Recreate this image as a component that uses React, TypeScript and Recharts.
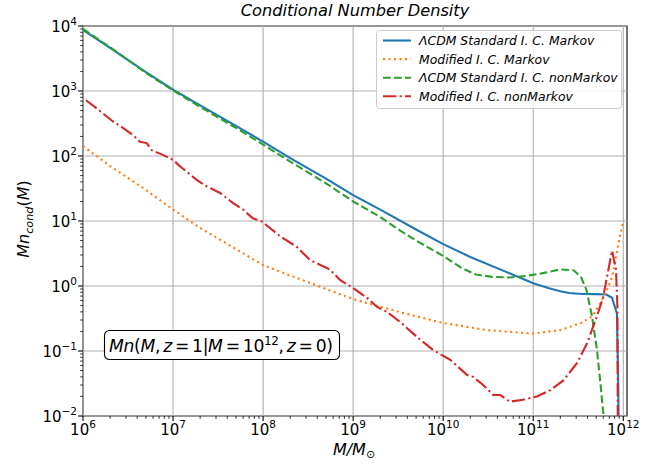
import React from 'react'
import { LineChart, Line, XAxis, YAxis, ReferenceLine, ReferenceArea } from 'recharts'

// axis limits (log-log)
const X_MIN = 1e6
const X_MAX = 1.1e12
const Y_MIN = 1e-2
const Y_MAX = 1e4

const xMajor = [1e6, 1e7, 1e8, 1e9, 1e10, 1e11, 1e12]
const yMajor = [1e-2, 1e-1, 1e0, 1e1, 1e2, 1e3, 1e4]
const minorSteps = [2, 3, 4, 5, 6, 7, 8, 9]

// [M / Msun, M n_cond(M)]
const standardMarkov: [number, number][] = [
  [1e6, 8700], [2e6, 4600], [5e6, 1950], [1e7, 1050], [2e7, 600], [5e7, 290],
  [1e8, 166], [2e8, 93], [5e8, 45], [1e9, 25], [2e9, 15], [5e9, 7.4],
  [1e10, 4.4], [2e10, 2.8], [5e10, 1.65], [1e11, 1.1], [1.5e11, 0.92], [2e11, 0.83],
  [2.5e11, 0.78], [3.5e11, 0.755], [5e11, 0.75], [6.5e11, 0.74], [7.5e11, 0.66],
  [8.5e11, 0.38], [8.8e11, 0.03], [8.9e11, 0.005],
]

const modifiedMarkov: [number, number][] = [
  [1e6, 142], [2e6, 70], [5e6, 30], [1e7, 15], [2e7, 7.8], [5e7, 3.7],
  [1e8, 2.1], [2e8, 1.45], [5e8, 0.9], [1e9, 0.63], [2e9, 0.48], [4.3e9, 0.36],
  [1e10, 0.27], [3e10, 0.21], [1e11, 0.185], [2e11, 0.21], [3.4e11, 0.27], [4.5e11, 0.34],
  [5.6e11, 0.55], [6.6e11, 0.87], [7.5e11, 1.37], [8.3e11, 2.8], [9e11, 5.1], [1e12, 9.8],
]

const standardNonMarkov: [number, number][] = [
  [1e6, 9000], [2e6, 4700], [5e6, 1900], [1e7, 1020], [2e7, 570], [5e7, 270],
  [1e8, 150], [2e8, 82], [5e8, 38], [1e9, 20], [2e9, 11.5], [3.3e9, 7.2],
  [5e9, 5.0], [1e10, 2.9], [1.6e10, 1.9], [2.3e10, 1.5], [3.5e10, 1.38], [5.5e10, 1.35],
  [8e10, 1.42], [1.2e11, 1.55], [2e11, 1.8], [2.8e11, 1.75], [3.4e11, 1.37], [3.9e11, 0.87],
  [4.5e11, 0.34], [5.1e11, 0.105], [5.6e11, 0.03], [6e11, 0.011], [6.1e11, 0.005],
]

const modifiedNonMarkov: [number, number][] = [
  [1.08e6, 720], [1.42e6, 540], [2.15e6, 340], [2.78e6, 270], [3.6e6, 210], [4.3e6, 166],
  [5.1e6, 158], [5.8e6, 123], [7.7e6, 104], [1e7, 87], [1.2e7, 69], [1.83e7, 43],
  [2.37e7, 34], [3.33e7, 27], [4.6e7, 19], [6e7, 15], [7.7e7, 11], [9.7e7, 9.8],
  [1.55e8, 5.8], [2.37e8, 4.0], [2.78e8, 3.2], [3.33e8, 2.5], [5.5e8, 1.8], [7.2e8, 1.23],
  [1e9, 0.93], [1.42e9, 0.66], [1.83e9, 0.48], [2.37e9, 0.4], [3.33e9, 0.28], [5.1e9, 0.165],
  [7.7e9, 0.104], [1.2e10, 0.073], [1.83e10, 0.043], [2.15e10, 0.04], [2.78e10, 0.03],
  [3.6e10, 0.021], [4.3e10, 0.021], [5.5e10, 0.0166], [7.7e10, 0.0178], [1.1e11, 0.02],
  [1.55e11, 0.025], [2.15e11, 0.035], [3.06e11, 0.065], [3.95e11, 0.13], [5.1e11, 0.34],
  [6e11, 0.69], [7.5e11, 3.5], [8.3e11, 1.8], [8.6e11, 0.5], [8.7e11, 0.005],
]

const seriesNames = [
  'ΛCDM Standard I. C. Markov',
  'Modified I. C. Markov',
  'ΛCDM Standard I. C. nonMarkov',
  'Modified I. C. nonMarkov',
]

const FONT = '"DejaVu Sans", sans-serif'

const colors = ['#1f77b4', '#ff7f0e', '#2ca02c', '#d62728']
const dashes = [undefined, '2.1 3.4', '7.7 3.3', '13.3 3.3 2.1 3.3']

const toRows = (pts: [number, number][]) => pts.map(([m, v]) => ({ m, v }))

const minorOf = (majors: number[], max: number) =>
  majors.flatMap((d) => minorSteps.map((s) => s * d)).filter((v) => v < max)

const xTicks = [...xMajor, ...minorOf(xMajor, X_MAX)]
const yTicks = [...yMajor, ...minorOf(yMajor, Y_MAX)]

const expLabel = (v: number) => {
  const e = Math.round(Math.log10(v))
  return e < 0 ? '\u2212' + Math.abs(e) : String(e)
}

const XTick = (props: any) => {
  const { x, y, payload } = props
  const major = xMajor.includes(payload.value)
  const len = major ? 4.9 : 2.8
  return (
    <g>
      <line x1={x} x2={x} y1={y} y2={y + len} stroke="#000" strokeWidth={major ? 1.1 : 0.8} />
      {major && (
        <text x={x} y={y + 19} textAnchor="middle" fontFamily={FONT} fontSize={15} fill="#000">
          10
          <tspan dy={-7} fontSize={10.5}>{expLabel(payload.value)}</tspan>
        </text>
      )}
    </g>
  )
}

const YTick = (props: any) => {
  const { x, y, payload } = props
  const major = yMajor.includes(payload.value)
  const len = major ? 4.9 : 2.8
  return (
    <g>
      <line x1={x - len} x2={x} y1={y} y2={y} stroke="#000" strokeWidth={major ? 1.1 : 0.8} />
      {major && (
        <text x={x - 6} y={y + 5.5} textAnchor="end" fontFamily={FONT} fontSize={15} fill="#000">
          10
          <tspan dy={-7} fontSize={10.5}>{expLabel(payload.value)}</tspan>
        </text>
      )}
    </g>
  )
}

const App = () => {
  return (
    <div style={{ position: 'absolute', left: 0, top: 0, width: 658, height: 465, background: '#fff' }}>
      <LineChart
        width={658}
        height={465}
        margin={{ top: 26, right: 31, bottom: 19, left: 23 }}
      >
        <XAxis
          dataKey="m"
          type="number"
          scale="log"
          domain={[X_MIN, X_MAX]}
          allowDataOverflow
          ticks={xTicks}
          interval={0}
          tick={<XTick />}
          tickLine={false}
          tickSize={0}
          tickMargin={0}
          axisLine={false}
          height={30}
        />
        <YAxis
          type="number"
          scale="log"
          domain={[Y_MIN, Y_MAX]}
          allowDataOverflow
          ticks={yTicks}
          interval={0}
          tick={<YTick />}
          tickLine={false}
          tickSize={0}
          tickMargin={0}
          axisLine={false}
          width={60}
        />
        {xMajor.map((v) => (
          <ReferenceLine key={'gx' + v} x={v} stroke="#b0b0b0" strokeWidth={1.1} />
        ))}
        {yMajor.map((v) => (
          <ReferenceLine key={'gy' + v} y={v} stroke="#b0b0b0" strokeWidth={1.1} />
        ))}
        {[standardMarkov, modifiedMarkov, standardNonMarkov, modifiedNonMarkov].map((pts, i) => (
          <Line
            key={seriesNames[i]}
            name={seriesNames[i]}
            data={toRows(pts)}
            dataKey="v"
            type="linear"
            stroke={colors[i]}
            strokeWidth={2.1}
            strokeDasharray={dashes[i]}
            dot={false}
            activeDot={false}
            isAnimationActive={false}
          />
        ))}
        <ReferenceArea
          x1={X_MIN}
          x2={X_MAX}
          y1={Y_MIN}
          y2={Y_MAX}
          fill="none"
          fillOpacity={0}
          stroke="#000"
          strokeWidth={1.1}
        />
      </LineChart>

      <svg
        width={658}
        height={465}
        style={{ position: 'absolute', left: 0, top: 0, pointerEvents: 'none' }}
        fontFamily={FONT}
      >
        {/* title */}
        <text x={355} y={16} textAnchor="middle" fontSize={16.2} fontStyle="italic" fill="#000">
          Conditional Number Density
        </text>
        {/* x label */}
        <text x={354} y={455} textAnchor="middle" fontSize={16} fontStyle="italic" fill="#000">
          M/M
          <tspan dy={3} fontSize={11} fontStyle="normal">⊙</tspan>
        </text>
        {/* y label */}
        <text
          transform="translate(29, 219) rotate(-90)"
          textAnchor="middle"
          fontSize={16}
          fontStyle="italic"
          fill="#000"
        >
          Mn
          <tspan dy={3.5} fontSize={11.2}>cond</tspan>
          <tspan dy={-3.5} fontStyle="normal">(</tspan>
          <tspan>M</tspan>
          <tspan fontStyle="normal">)</tspan>
        </text>

        {/* legend */}
        <rect x={376.5} y={30.5} width={245} height={78} rx={3} fill="#fff" fillOpacity={0.85} stroke="#cccccc" />
        {seriesNames.map((name, i) => {
          const cy = 40.5 + i * 18.6
          return (
            <g key={name}>
              <line
                x1={383}
                x2={411}
                y1={cy}
                y2={cy}
                stroke={colors[i]}
                strokeWidth={2.1}
                strokeDasharray={dashes[i]}
              />
              <text x={419} y={cy + 4.5} fontSize={12.4} fontStyle="italic" fill="#000">
                {name}
              </text>
            </g>
          )
        })}

        {/* annotation */}
        <rect x={104.5} y={330.5} width={235} height={29} rx={5} fill="#fff" stroke="#000" strokeWidth={1.1} />
        <text
          x={109}
          y={351.5}
          fontSize={17.2}
          fill="#000"
          textLength={224}
          lengthAdjust="spacing"
        >
          <tspan fontStyle="italic">Mn</tspan>
          <tspan>(</tspan>
          <tspan fontStyle="italic">M</tspan>
          <tspan>,{'\u2009'}</tspan>
          <tspan fontStyle="italic">z</tspan>
          <tspan>{'\u2009'}={'\u2009'}1|</tspan>
          <tspan fontStyle="italic">M</tspan>
          <tspan>{'\u2009'}={'\u2009'}10</tspan>
          <tspan dy={-7} fontSize={12}>12</tspan>
          <tspan dy={7}>,{'\u2009'}</tspan>
          <tspan fontStyle="italic">z</tspan>
          <tspan>{'\u2009'}={'\u2009'}0)</tspan>
        </text>
      </svg>
    </div>
  )
}

export default App
